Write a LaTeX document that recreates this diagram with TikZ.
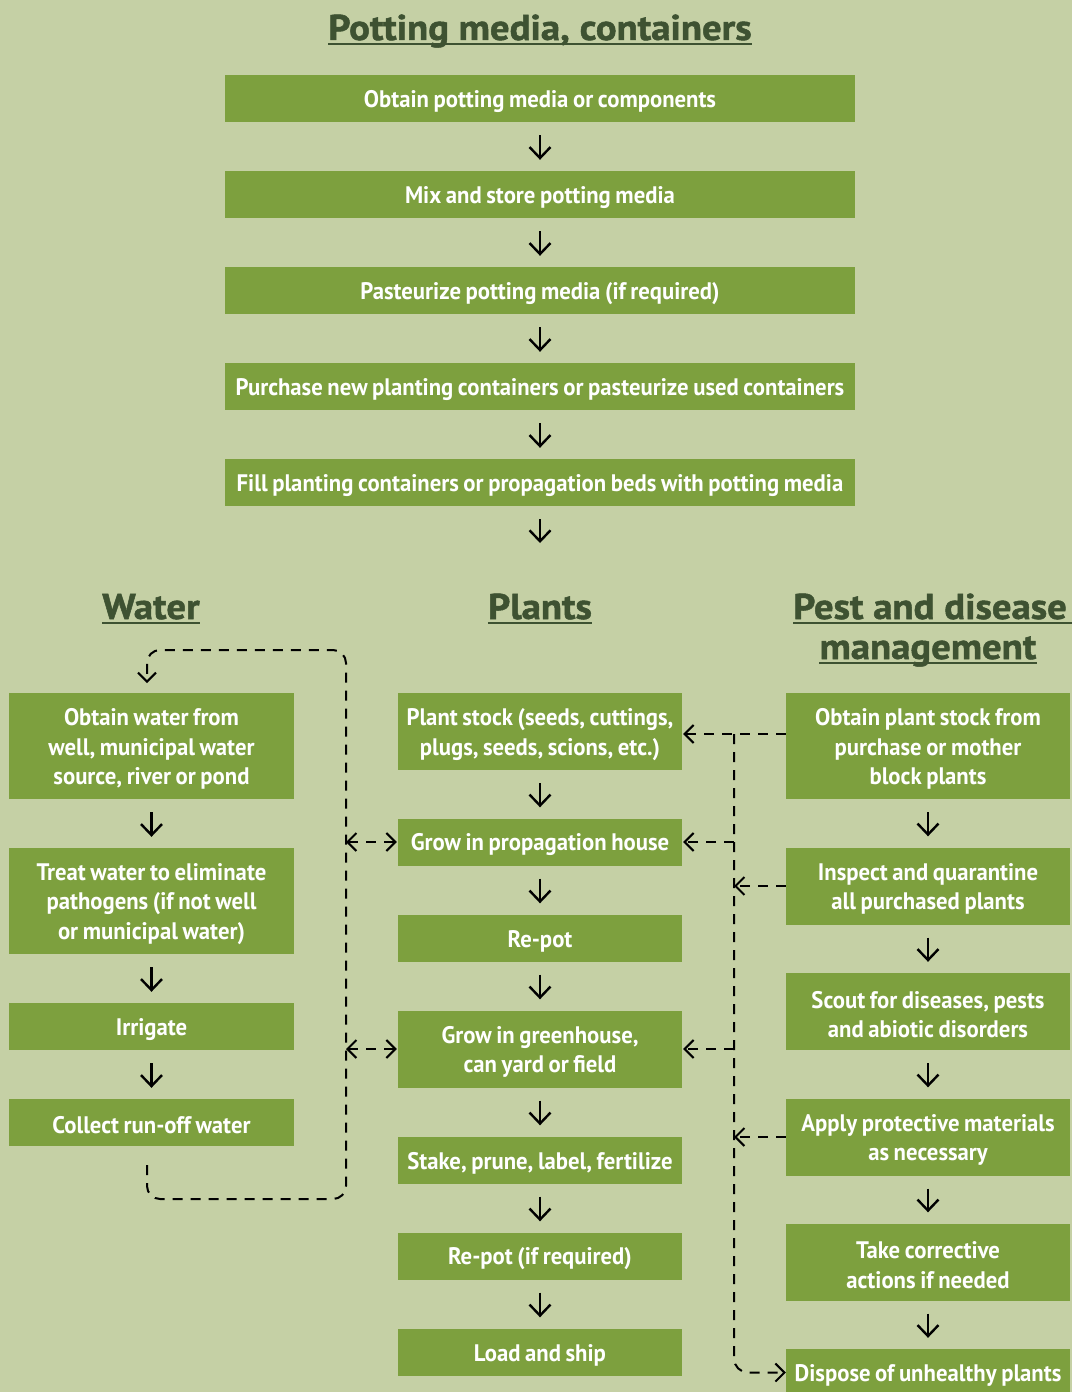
\documentclass[tikz,border=0pt]{standalone}
\usepackage{fontspec}
\setmainfont{PT Sans}[FakeStretch=0.9]
\newfontfamily\boxfont{PT Sans}[FakeStretch=0.95, WordSpace=0.8]
\newfontfamily\headfont{PT Sans}[FakeStretch=1.08, BoldFeatures={FakeBold=1.4}]
\newcommand\firststrut{\rule{0pt}{23bp}}
\usetikzlibrary{arrows.meta}
\definecolor{bg}{RGB}{197,208,165}
\definecolor{boxg}{RGB}{125,160,62}
\definecolor{headg}{RGB}{62,82,50}
\begin{document}
\begin{tikzpicture}[x=1bp,y=-1bp,
  box/.style={rectangle, fill=boxg, text=white, font=\boxfont\bfseries\fontsize{24}{29.5}\selectfont, align=center, inner sep=0pt},
  topbox/.style={box, minimum width=630bp, minimum height=47bp},
  colbox/.style={box, minimum width=284bp},
  h1/.style={minimum height=47bp},
  h2/.style={minimum height=77bp},
  h3/.style={minimum height=106bp},
  head/.style={text=headg, font=\headfont\bfseries\fontsize{36}{42}\selectfont, inner sep=0pt, anchor=base},
  uline/.style={draw=headg, line width=2bp},
  ftip/.style={-{Straight Barb[length=11bp,width=21bp,line width=2.4bp]}},
  flow/.style={ftip, line width=2.4bp, shorten <=13bp, shorten >=11bp},
  dsh/.style={line width=2bp, dash pattern=on 10bp off 8bp},
  dtip/.style={-{Straight Barb[length=9bp,width=18bp,line width=2bp]}},
  dboth/.style={{Straight Barb[length=9bp,width=18bp,line width=2bp]}-{Straight Barb[length=9bp,width=18bp,line width=2bp]}},
]
\useasboundingbox (0,0) rectangle (1072,1392);
\fill[bg] (0,0) rectangle (1072,1392);

% headings
\node[head] (hpot) at (540,40) {Potting media, containers};
\draw[uline] ([yshift=-4bp]hpot.base west) -- ([yshift=-4bp]hpot.base east);
\node[head] (hwat) at (151,619) {Water};
\draw[uline] ([yshift=-4bp]hwat.base west) -- ([yshift=-4bp]hwat.base east);
\node[head] (hpla) at (540,619) {Plants};
\draw[uline] ([yshift=-4bp]hpla.base west) -- ([yshift=-4bp]hpla.base east);
\node[head, anchor=base west] (hpe1) at (793,619) {Pest and disease};
\coordinate (hpe1r) at (1072,619);
\draw[uline] ([yshift=-4bp]hpe1.base west) -- ([yshift=-4bp]hpe1.base west -| hpe1r);
\node[head] (hpe2) at (928,659) {management};
\draw[uline] ([yshift=-4bp]hpe2.base west) -- ([yshift=-4bp]hpe2.base east);

% top column
\node[topbox] (t1) at (540,98.5) {\firststrut Obtain potting media or components};
\node[topbox] (t2) at (540,194.5) {\firststrut Mix and store potting media};
\node[topbox] (t3) at (540,290.5) {\firststrut Pasteurize potting media (if required)};
\node[topbox] (t4) at (540,386.5) {\firststrut Purchase new planting containers or pasteurize used containers};
\node[topbox] (t5) at (540,482.5) {\firststrut Fill planting containers or propagation beds with potting media};
\coordinate (tend) at (540,554);
\draw[flow] (t1) -- (t2);
\draw[flow] (t2) -- (t3);
\draw[flow] (t3) -- (t4);
\draw[flow] (t4) -- (t5);
\draw[flow] (t5.south) -- (tend);

% water column
\node[colbox,h3] (w1) at (151.5,746) {\firststrut Obtain water from\\well, municipal water\\source, river or pond};
\node[colbox,h3] (w2) at (151.5,901) {\firststrut Treat water to eliminate\\pathogens (if not well\\or municipal water)};
\node[colbox,h1] (w3) at (151.5,1026.5) {\firststrut Irrigate};
\node[colbox,h1] (w4) at (151.5,1122.5) {\firststrut Collect run-off water};
\draw[flow] (w1) -- (w2);
\draw[flow] (w2) -- (w3);
\draw[flow] (w3) -- (w4);

% plants column
\node[colbox,h2] (p1) at (540,731.5) {\firststrut Plant stock (seeds, cuttings,\\plugs, seeds, scions, etc.)};
\node[colbox,h1] (p2) at (540,842) {\firststrut Grow in propagation house};
\node[colbox,h1] (p3) at (540,938) {\firststrut Re-pot};
\node[colbox,h2] (p4) at (540,1049) {\firststrut Grow in greenhouse,\\can yard or field};
\node[colbox,h1] (p5) at (540,1160) {\firststrut Stake, prune, label, fertilize};
\node[colbox,h1] (p6) at (540,1256) {\firststrut Re-pot (if required)};
\node[colbox,h1] (p7) at (540,1352) {\firststrut Load and ship};
\draw[flow] (p1) -- (p2);
\draw[flow] (p2) -- (p3);
\draw[flow] (p3) -- (p4);
\draw[flow] (p4) -- (p5);
\draw[flow] (p5) -- (p6);
\draw[flow] (p6) -- (p7);

% pest column
\node[colbox,h3] (r1) at (928,746) {\firststrut Obtain plant stock from\\purchase or mother\\block plants};
\node[colbox,h2] (r2) at (928,886) {\firststrut Inspect and quarantine\\all purchased plants};
\node[colbox,h2] (r3) at (928,1011.5) {\firststrut Scout for diseases, pests\\and abiotic disorders};
\node[colbox,h2] (r4) at (928,1137) {\firststrut Apply protective materials\\as necessary};
\node[colbox,h2] (r5) at (928,1262) {\firststrut Take corrective\\actions if needed};
\node[colbox,h1] (r6) at (928,1372.5) {\firststrut Dispose of unhealthy plants};
\draw[flow] (r1) -- (r2);
\draw[flow] (r2) -- (r3);
\draw[flow] (r3) -- (r4);
\draw[flow] (r4) -- (r5);
\draw[flow] (r5) -- (r6);

% water recycling loop
\coordinate (wls) at (147,1165);
\coordinate (wle) at (147,683);
\coordinate (wbr) at (346,1199);
\coordinate (wtr) at (346,650);
\draw[dsh, dtip, rounded corners=13bp]
  (wls) -- (wls |- wbr) -- (wbr) -- (wtr) -- (wle |- wtr) -- (wle);
\coordinate (wx1) at (346,842);
\coordinate (wx2) at (346,1049);
\draw[dsh, dboth, shorten >=1bp] (wx1) -- (p2.west);
\draw[dsh, dboth, shorten >=1bp] (wx2) -- (p4.west);

% pest links
\coordinate (vx) at (734,734);
\coordinate (vb) at (734,1372.5);
\draw[dsh, dtip, shorten >=1bp] (vx -| r1.west) -- (vx -| p1.east);
\draw[dsh, dtip, rounded corners=14bp] (vx) -- (vb) -- (r6.west);
\draw[dsh, dtip, shorten >=1bp] (vx |- p2.east) -- (p2.east);
\draw[dsh, dtip, shorten >=1bp] (vx |- p4.east) -- (p4.east);
\draw[dsh, dtip] (r2.west) -- (vx |- r2.west);
\draw[dsh, dtip] (r4.west) -- (vx |- r4.west);
\end{tikzpicture}
\end{document}
